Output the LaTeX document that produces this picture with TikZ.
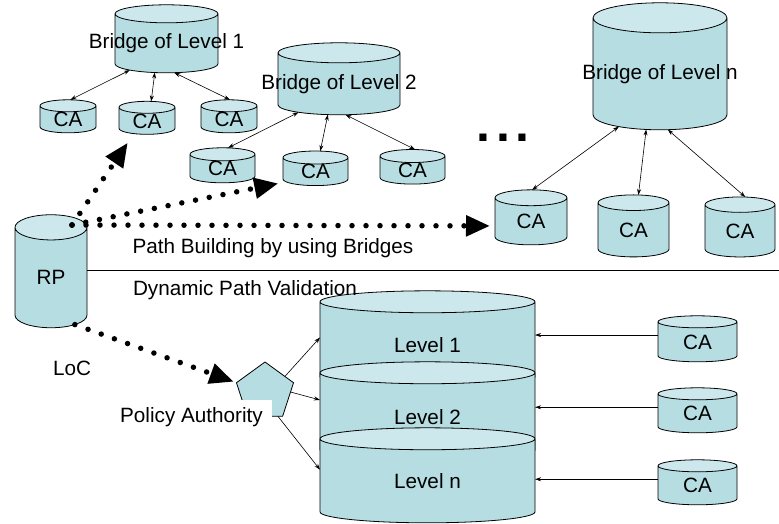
\documentclass[tikz,border=0pt]{standalone}
\usepackage{fontspec}
\setmainfont{Liberation Sans}
\usetikzlibrary{shapes.geometric,arrows.meta}
\definecolor{cabody}{RGB}{181,221,226}
\definecolor{catop}{RGB}{205,232,236}
\begin{document}
\begin{tikzpicture}[x=1pt,y=-1pt,inner sep=0pt,outer sep=0pt,
font=\fontsize{20.7}{24}\selectfont,>={Stealth[length=6pt,width=4pt]},
cyl/.style={draw,cylinder,shape border rotate=90,line width=.8pt,cylinder uses custom fill,cylinder body fill=cabody,cylinder end fill=catop},
link/.style={line width=.6pt},
dotarrow/.style={line width=5.5pt,line cap=round,dash pattern=on 0pt off 14pt,-{Triangle[length=24pt,width=20pt]}}]
\useasboundingbox (0,0) rectangle (779,524);
% bridges and their CAs
\draw (166.5,43.5) node[cyl,minimum width=103,minimum height=68,shape aspect=.175] (br1) {\makebox[103pt]{Bridge of Level 1}};
\draw (68,119.5) node[cyl,minimum width=56,minimum height=33,shape aspect=.214] (ca11) {\makebox[56pt]{CA}};
\draw (147,121) node[cyl,minimum width=56,minimum height=33,shape aspect=.214] (ca12) {\makebox[56pt]{CA}};
\draw (229,119.5) node[cyl,minimum width=56,minimum height=33,shape aspect=.214] (ca13) {\makebox[56pt]{CA}};
\draw (339,84) node[cyl,minimum width=122,minimum height=72,shape aspect=.164] (br2) {\makebox[122pt]{Bridge of Level 2}};
\draw (222.5,168.75) node[cyl,minimum width=65,minimum height=35,shape aspect=.2] (ca21) {\makebox[65pt]{CA}};
\draw (315.5,171.75) node[cyl,minimum width=65,minimum height=33,shape aspect=.2] (ca22) {\makebox[65pt]{CA}};
\draw (412.5,170.25) node[cyl,minimum width=65,minimum height=33,shape aspect=.2] (ca23) {\makebox[65pt]{CA}};
\draw (660,74) node[cyl,minimum width=134,minimum height=127,shape aspect=.224] (brn) {\makebox[134pt]{Bridge of Level n}};
\draw (531,221.5) node[cyl,minimum width=72,minimum height=55,shape aspect=.22] (can1) {\makebox[72pt]{CA}};
\draw (633.5,230) node[cyl,minimum width=71,minimum height=62,shape aspect=.22] (can2) {\makebox[71pt]{CA}};
\draw (740,231) node[cyl,minimum width=70,minimum height=60,shape aspect=.22] (can3) {\makebox[70pt]{CA}};
\draw[link,<->] (br1.216) -- (ca11.83);
\draw[link,<->] (br1.248) -- (ca12.78);
\draw[link,<->] (br1.285) -- (ca13.87);
\draw[link,<->] (br2.215) -- (ca21.75);
\draw[link,<->] (br2.250) -- (ca22.77);
\draw[link,<->] (br2.282) -- (ca23.83);
\draw[link,<->] (brn.232) -- (can1.88);
\draw[link,<->] (brn.256) -- (can2.82);
\draw[link,<->] (brn.278) -- (can3.81);
\draw (503,142) node[anchor=base,font=\fontsize{50}{50}\selectfont\bfseries] (dots) {.\hspace{6pt}.\hspace{6pt}.};
% RP and path building
\draw (51,277.75) node[cyl,minimum width=72,minimum height=113,shape aspect=.35] (rp) {\makebox[72pt]{RP}};
\coordinate (rpout) at (72,225);
\coordinate (edge) at (779,270);
\draw[line width=.7pt] (rp.east |- edge) -- (edge);
\draw[dotarrow,shorten >=11pt] (rpout) -- (ca12.224);
\draw[dotarrow,shorten >=8pt] (rpout) -- (ca22.199);
\draw[dotarrow,shorten >=5pt] (rpout) -- (can1.187);
\draw (273,248) node (pbb) {Path Building by using Bridges};
% dynamic path validation
\draw (427.5,345) node[cyl,minimum width=215,minimum height=97,shape aspect=.102] (lv1) {\makebox[215pt]{Level 1}};
\draw (427.5,417) node[cyl,minimum width=215,minimum height=99,shape aspect=.102] (lv2) {\makebox[215pt]{Level 2}};
\draw (427.5,481) node[cyl,minimum width=215,minimum height=95,shape aspect=.102] (lvn) {\makebox[215pt]{Level n}};
\draw (697.5,342) node[cyl,minimum width=79,minimum height=46,shape aspect=.152] (cr1) {\makebox[79pt]{CA}};
\draw (697.5,413.5) node[cyl,minimum width=79,minimum height=45,shape aspect=.152] (cr2) {\makebox[79pt]{CA}};
\draw (697.5,485.5) node[cyl,minimum width=79,minimum height=45,shape aspect=.152] (cr3) {\makebox[79pt]{CA}};
\draw[link,->] (cr1.170) -- (cr1.170 -| lv1.east);
\draw[link,->] (cr2.171) -- (cr2.171 -| lv2.east);
\draw[link,->] (cr3.171) -- (cr3.171 -| lvn.east);
\draw (265,392) node[draw,regular polygon,regular polygon sides=5,minimum size=60,fill=cabody,line width=.8pt] (pa) {};
\draw (191.5,417) node[fill=white,inner xsep=9pt,inner ysep=7pt] (palabel) {Policy Authority};
\draw[link,->] (pa.38) -- (lv1.176);
\draw[link,->] (pa.0) -- (lv2.171);
\draw[link,->] (pa.-62) -- (lvn.174);
\draw[dotarrow,shorten >=3pt] (rp.-63) -- (pa.corner 2);
\draw (245,290) node (dpv) {Dynamic Path Validation};
\draw (72,368) node (loc) {LoC};
\end{tikzpicture}
\end{document}
